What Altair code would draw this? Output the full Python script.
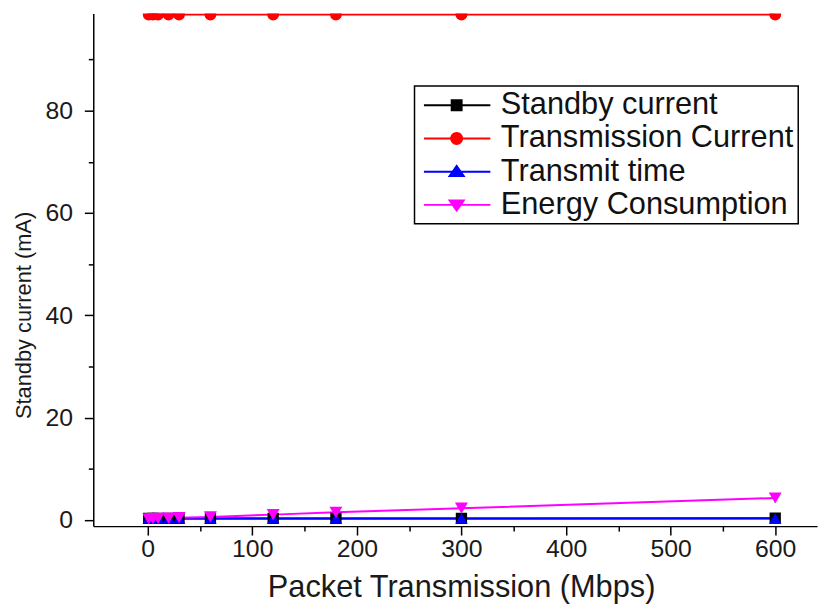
import altair as alt
import pandas as pd

# ---- data ----
x_vals = [1, 5, 10, 20, 30, 60, 120, 180, 300, 600]
standby_current = [0.3, 0.3, 0.3, 0.3, 0.3, 0.3, 0.3, 0.3, 0.3, 0.35]
transmission_current = [98.8, 98.8, 98.8, 98.8, 98.8, 98.8, 98.8, 98.8, 98.8, 98.8]
transmit_time = [0.3, 0.3, 0.3, 0.3, 0.3, 0.3, 0.3, 0.3, 0.3, 0.3]
energy_consumption = [0.2, 0.25, 0.3, 0.35, 0.45, 0.6, 1.05, 1.5, 2.3, 4.3]

series_names = ["Standby current", "Transmission Current", "Transmit time", "Energy Consumption"]
series_values = [standby_current, transmission_current, transmit_time, energy_consumption]
colors = ["#000000", "#FF0000", "#0000FF", "#FF00FF"]
shapes = ["square", "circle", "triangle-up", "triangle-down"]
marker_sizes = [130, 170, 300, 300]

x_major = [0, 100, 200, 300, 400, 500, 600]
x_minor = [50, 150, 250, 350, 450, 550]
y_major = [0, 20, 40, 60, 80]
y_minor = [10, 30, 50, 70, 90]

# legend symbols: line segment with the marker in the middle
LINE = "M-1,-0.1H5.7V0.1H-1Z "
legend_paths = [
    LINE + "M1.7,-0.6H2.9V0.6H1.7Z",
    LINE + "M1.65,0A0.65,0.65 0 1,1 2.95,0A0.65,0.65 0 1,1 1.65,0Z",
    LINE + "M2.3,-0.75L3.2,0.55L1.4,0.55Z",
    LINE + "M1.4,-0.55L3.2,-0.55L2.3,0.75Z",
]

rows = []
k = 0
for name, vals in zip(series_names, series_values):
    for xv, yv in zip(x_vals, vals):
        rows.append({"x": xv, "y": yv, "series": name, "idx": k})
        k += 1
df = pd.DataFrame(rows)

FONT = "Liberation Sans"
xscale = alt.Scale(domain=[-52, 640], nice=False, zero=False)
yscale = alt.Scale(domain=[-1.2, 99], nice=False, zero=False)

x_axis = alt.Axis(values=x_major, format="d", orient="bottom", labelPadding=2,
                  title="Packet Transmission (Mbps)", titleFontSize=31,
                  titleX=371, titleY=71, titleAlign="center", titleBaseline="alphabetic",
                  titleAngle=0, labelFlush=False)
y_axis = alt.Axis(values=y_major, orient="left", labelPadding=12,
                  title="Standby current (mA)", titleFontSize=22,
                  titleAngle=270, titleX=-70, titleY=304, titleAlign="center",
                  titleBaseline="middle")
x_axis_minor = alt.Axis(values=x_minor, orient="bottom", labels=False, domain=False,
                        tickSize=5, title=None)
y_axis_minor = alt.Axis(values=y_minor, orient="left", labels=False, domain=False,
                        tickSize=5, title=None)

color_scale = alt.Scale(domain=series_names, range=colors)

base = alt.Chart(df)

lines = base.mark_line(strokeWidth=2, clip=True).encode(
    x=alt.X("x:Q", scale=xscale, axis=x_axis),
    y=alt.Y("y:Q", scale=yscale, axis=y_axis),
    color=alt.Color("series:N", scale=color_scale, legend=None),
)

points = base.mark_point(filled=True, opacity=1, clip=True).encode(
    x=alt.X("x:Q", scale=xscale, axis=None),
    y=alt.Y("y:Q", scale=yscale, axis=None),
    color=alt.Color("series:N", scale=color_scale, legend=None),
    shape=alt.Shape("series:N", scale=alt.Scale(domain=series_names, range=shapes), legend=None),
    size=alt.Size("series:N", scale=alt.Scale(domain=series_names, range=marker_sizes), legend=None),
    order=alt.Order("idx:Q"),
)

legend_def = alt.Legend(
    title=None, orient="none", legendX=324, legendY=73,
    strokeColor="black", fillColor="white", padding=4, rowPadding=1.5,
    labelFont=FONT, labelFontSize=31, labelColor="#111111", labelLimit=500,
    labelOffset=52, symbolSize=400, symbolStrokeWidth=0, symbolOpacity=1,
)

legend_layer = base.mark_point(filled=True, opacity=0).encode(
    x=alt.X("x:Q", scale=xscale, axis=x_axis_minor),
    y=alt.Y("y:Q", scale=yscale, axis=y_axis_minor),
    color=alt.Color("series:N", scale=color_scale, legend=legend_def),
    shape=alt.Shape("series:N", scale=alt.Scale(domain=series_names, range=legend_paths),
                    legend=legend_def),
)

chart = (
    alt.layer(lines, points, legend_layer)
    .resolve_scale(color="independent", shape="independent")
    .resolve_axis(x="independent", y="independent")
    .properties(
        width=730, height=517,
        autosize=alt.AutoSizeParams(type="none"),
        padding={"left": 86, "top": 3, "right": 8, "bottom": 79},
        background="white",
    )
    .configure_view(stroke=None)
    .configure_axis(
        grid=False, labelFont=FONT, labelFontSize=25, labelColor="#1a1a1a",
        titleFont=FONT, titleFontWeight="normal", titleColor="#1a1a1a",
        domainColor="black", domainWidth=1.5, tickColor="black", tickWidth=1.5, tickSize=9,
    )
    .configure_legend(strokeWidth=1.5)
)

chart.save("out.html", embed_options={"renderer": "svg", "actions": False})
